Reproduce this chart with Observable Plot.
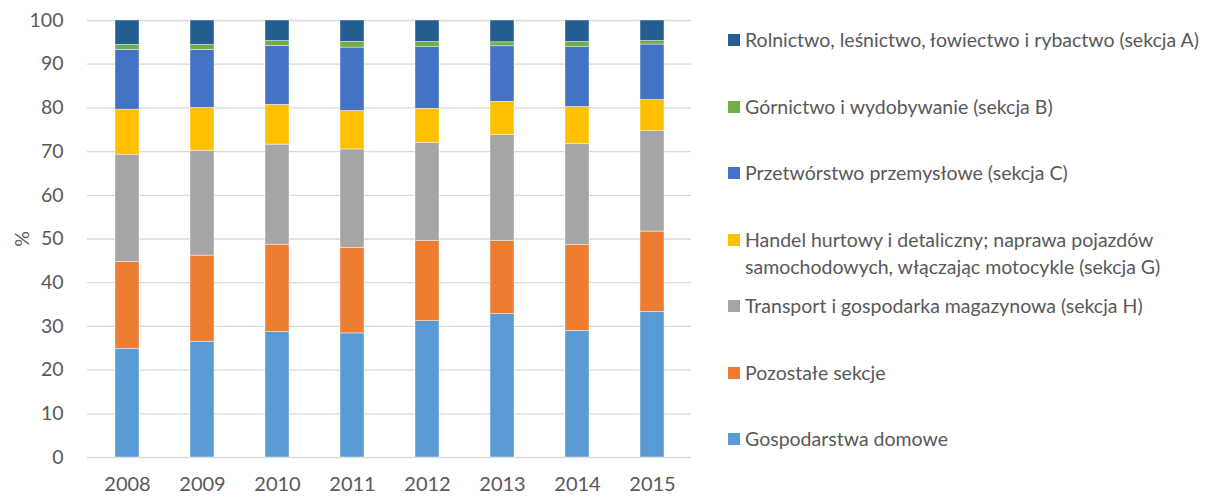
<!DOCTYPE html>
<html>
<head>
<meta charset="utf-8">
<script src="https://cdn.jsdelivr.net/npm/d3@7"></script>
<script src="https://cdn.jsdelivr.net/npm/@observablehq/plot@0.6"></script>
<style>
  html, body { margin: 0; padding: 0; background: #fff; }
  #wrap { position: relative; width: 1209px; height: 498px; font-family: Lato, "Noto Sans", sans-serif; color: #595959; }
  #chart { position: absolute; left: 0; top: 0; }
  .leg { position: absolute; left: 728px; font-size: 19.5px; line-height: 27px; white-space: nowrap; }
  .leg .sw { position: absolute; left: 0; top: 7.5px; width: 12px; height: 12px; }
  .leg .tx { margin-left: 17px; display: block; }
</style>
</head>
<body>
<div id="wrap"><div id="chart"></div><div id="legend"></div></div>
<script>
const years = ["2008", "2009", "2010", "2011", "2012", "2013", "2014", "2015"];

const seriesNames = [
  "Gospodarstwa domowe",
  "Pozostałe sekcje",
  "Transport i gospodarka magazynowa (sekcja H)",
  "Handel hurtowy i detaliczny; naprawa pojazdów samochodowych, włączając motocykle (sekcja G)",
  "Przetwórstwo przemysłowe (sekcja C)",
  "Górnictwo i wydobywanie (sekcja B)",
  "Rolnictwo, leśnictwo, łowiectwo i rybactwo (sekcja A)"
];

const seriesColors = ["#5B9BD5", "#ED7D31", "#A5A5A5", "#FFC000", "#4472C4", "#70AD47", "#255E91"];

const households    = [24.9, 26.5, 28.7, 28.4, 31.2, 32.8, 29.0, 33.3];
const otherSections = [19.8, 19.7, 20.0, 19.6, 18.3, 16.7, 19.6, 18.4];
const transport     = [24.6, 24.0, 22.9, 22.5, 22.5, 24.3, 23.2, 23.0];
const trade         = [10.3,  9.8,  9.1,  8.8,  7.8,  7.6,  8.4,  7.1];
const manufacturing = [13.7, 13.3, 13.5, 14.5, 14.1, 12.7, 13.7, 12.7];
const mining        = [ 1.1,  1.1,  1.1,  1.3,  1.2,  0.9,  1.2,  0.8];
const agriculture   = [ 5.6,  5.6,  4.7,  4.9,  4.9,  5.0,  4.9,  4.7];

const yTicks = [0, 10, 20, 30, 40, 50, 60, 70, 80, 90, 100];

const seriesValues = [households, otherSections, transport, trade, manufacturing, mining, agriculture];
const data = [];
seriesNames.forEach((name, i) => {
  years.forEach((yr, j) => data.push({ year: yr, series: name, value: seriesValues[i][j] }));
});

const chart = Plot.plot({
  width: 700,
  height: 498,
  marginLeft: 87,
  marginRight: 9,
  marginTop: 20,
  marginBottom: 41,
  style: { fontFamily: "Lato, 'Noto Sans', sans-serif", color: "#595959", background: "white" },
  x: { domain: years, paddingInner: 0.68, paddingOuter: 0.34, label: null },
  y: { domain: [0, 100], label: null },
  color: { domain: seriesNames, range: seriesColors },
  marks: [
    Plot.ruleY(yTicks, { stroke: "#D9D9D9", strokeWidth: 1.3 }),
    Plot.barY(data, Plot.stackY({
      x: "year", y: "value", z: "series", fill: "series",
      order: seriesNames,
      stroke: "white", strokeWidth: 0.6, strokeOpacity: 0.7
    })),
    Plot.axisY(yTicks, { tickSize: 0, tickPadding: 24, fontSize: 19.5, label: null, fill: "#595959" }),
    Plot.axisX({ tickSize: 0, tickPadding: 19, fontSize: 20, label: null, fill: "#595959" }),
    Plot.text(["%"], { frameAnchor: "left", dx: -65, rotate: -90, fontSize: 19.5, fill: "#595959", textAnchor: "middle" })
  ]
});
document.getElementById("chart").appendChild(chart);

// Legend items, top to bottom
const legendOrder = [6, 5, 4, 3, 2, 1, 0];
const legendTops = [26, 93, 159, 226, 292, 359, 425];
const legendLines = {
  3: ["Handel hurtowy i detaliczny; naprawa pojazdów", "samochodowych, włączając motocykle (sekcja G)"]
};
const legend = document.getElementById("legend");
legendOrder.forEach((si, k) => {
  const item = document.createElement("div");
  item.className = "leg";
  item.style.top = legendTops[k] + "px";
  const sw = document.createElement("span");
  sw.className = "sw";
  sw.style.background = seriesColors[si];
  item.appendChild(sw);
  const lines = legendLines[si] || [seriesNames[si]];
  lines.forEach(l => {
    const t = document.createElement("span");
    t.className = "tx";
    t.textContent = l;
    item.appendChild(t);
  });
  legend.appendChild(item);
});
</script>
</body>
</html>
